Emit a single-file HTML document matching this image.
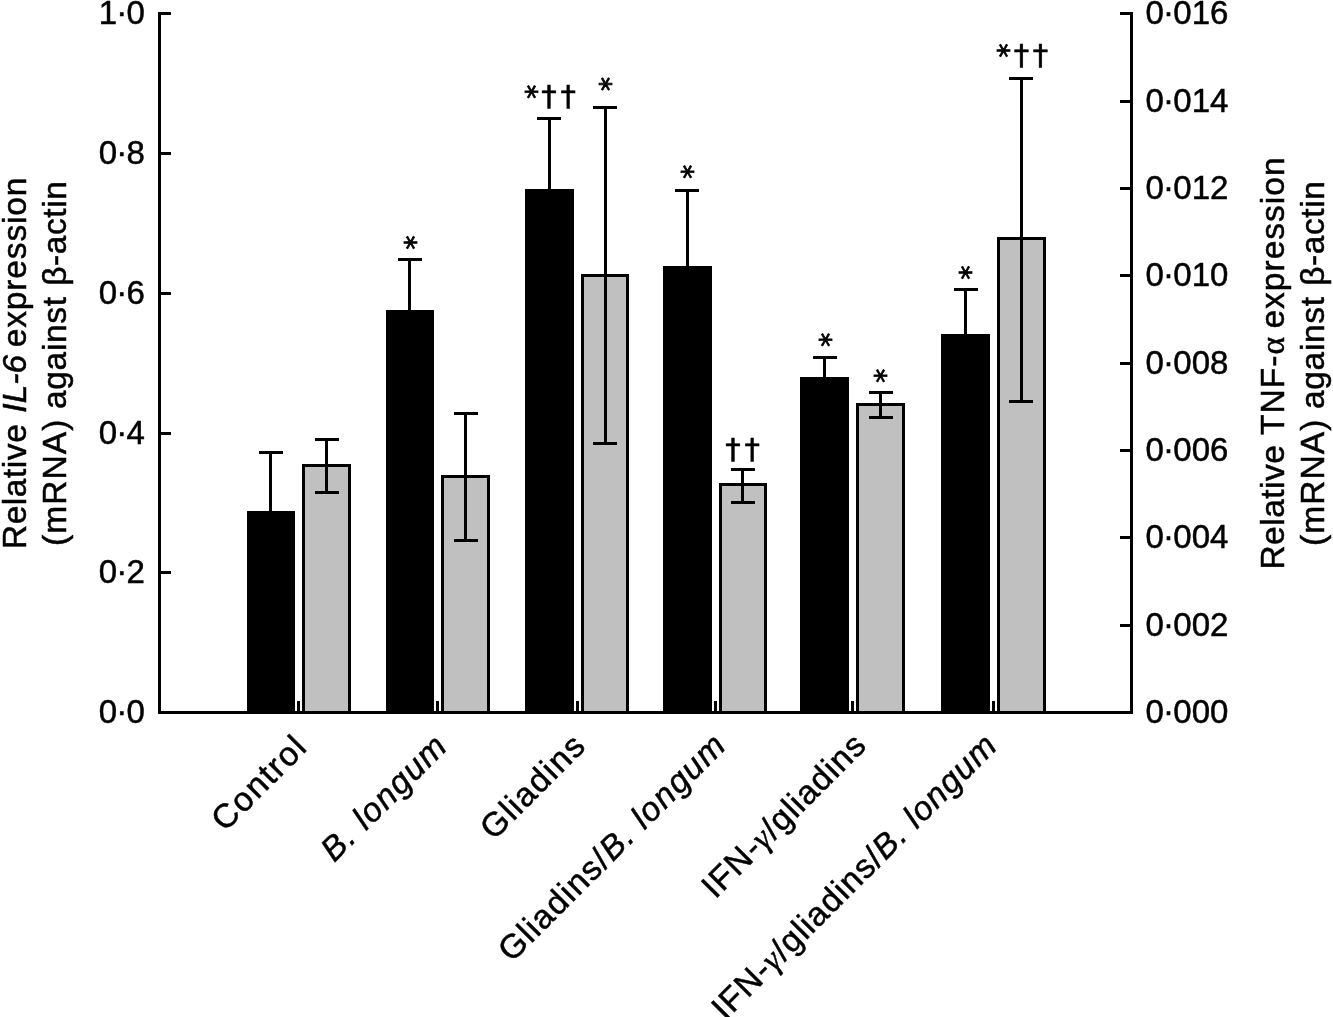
<!DOCTYPE html>
<html lang="en">
<head>
<meta charset="utf-8">
<title>Relative IL-6 and TNF-α expression</title>
<style>
html,body{margin:0;padding:0;background:#fff;}
body{width:1333px;height:1017px;overflow:hidden;}
svg{display:block;}
text{font-family:"Liberation Sans", Arial, Helvetica, sans-serif;fill:#000;stroke:#000;stroke-width:0.5px;}
.tk{font-size:33px;}
.yl{font-size:33.5px;word-spacing:2.5px;}
.xl{font-size:33.5px;text-anchor:end;letter-spacing:1.1px;}
.as{font-family:"DejaVu Sans",sans-serif;font-size:28px;stroke-width:0.8px;}
.dg{font-family:"DejaVu Sans",sans-serif;font-size:28.4px;stroke-width:0.5px;}
.it{font-style:italic;}
.gr{font-family:"Liberation Serif",serif;}
</style>
</head>
<body>
<svg width="1333" height="1017" viewBox="0 0 1333 1017">
<rect x="0" y="0" width="1333" height="1017" fill="#fff"/>

<g shape-rendering="crispEdges">
<rect x="247" y="511" width="48" height="201" fill="#000"/>
<rect x="303.5" y="465.5" width="46" height="246.5" fill="#c0c0c0" stroke="#000" stroke-width="3"/>
<rect x="297" y="701" width="3" height="11" fill="#000"/>
<rect x="386" y="310" width="48" height="402" fill="#000"/>
<rect x="442.5" y="476.5" width="46" height="235.5" fill="#c0c0c0" stroke="#000" stroke-width="3"/>
<rect x="436" y="701" width="3" height="11" fill="#000"/>
<rect x="525" y="189" width="49" height="523" fill="#000"/>
<rect x="582.5" y="275.5" width="45" height="436.5" fill="#c0c0c0" stroke="#000" stroke-width="3"/>
<rect x="576" y="701" width="3" height="11" fill="#000"/>
<rect x="663" y="266" width="49" height="446" fill="#000"/>
<rect x="720.5" y="484.5" width="45" height="227.5" fill="#c0c0c0" stroke="#000" stroke-width="3"/>
<rect x="714" y="701" width="3" height="11" fill="#000"/>
<rect x="800" y="377" width="49" height="335" fill="#000"/>
<rect x="857.5" y="404.5" width="46" height="307.5" fill="#c0c0c0" stroke="#000" stroke-width="3"/>
<rect x="851" y="701" width="3" height="11" fill="#000"/>
<rect x="941" y="334" width="49" height="378" fill="#000"/>
<rect x="998.5" y="238.5" width="46" height="473.5" fill="#c0c0c0" stroke="#000" stroke-width="3"/>
<rect x="992" y="701" width="3" height="11" fill="#000"/>
<rect x="269" y="451" width="3" height="60" fill="#000"/>
<rect x="259" y="451" width="24" height="3" fill="#000"/>
<rect x="325" y="438" width="3" height="56" fill="#000"/>
<rect x="315" y="438" width="24" height="3" fill="#000"/>
<rect x="315" y="491" width="24" height="3" fill="#000"/>
<rect x="408" y="258" width="3" height="52" fill="#000"/>
<rect x="398" y="258" width="24" height="3" fill="#000"/>
<rect x="464" y="412" width="3" height="130" fill="#000"/>
<rect x="454" y="412" width="24" height="3" fill="#000"/>
<rect x="454" y="539" width="24" height="3" fill="#000"/>
<rect x="548" y="117" width="3" height="72" fill="#000"/>
<rect x="537" y="117" width="24" height="3" fill="#000"/>
<rect x="604" y="106" width="3" height="339" fill="#000"/>
<rect x="593" y="106" width="24" height="3" fill="#000"/>
<rect x="593" y="442" width="24" height="3" fill="#000"/>
<rect x="686" y="189" width="3" height="77" fill="#000"/>
<rect x="675" y="189" width="24" height="3" fill="#000"/>
<rect x="741" y="468" width="3" height="36" fill="#000"/>
<rect x="731" y="468" width="24" height="3" fill="#000"/>
<rect x="731" y="501" width="24" height="3" fill="#000"/>
<rect x="823" y="356" width="3" height="21" fill="#000"/>
<rect x="813" y="356" width="24" height="3" fill="#000"/>
<rect x="879" y="391" width="3" height="28" fill="#000"/>
<rect x="869" y="391" width="24" height="3" fill="#000"/>
<rect x="869" y="416" width="24" height="3" fill="#000"/>
<rect x="964" y="288" width="3" height="46" fill="#000"/>
<rect x="954" y="288" width="24" height="3" fill="#000"/>
<rect x="1020" y="77" width="3" height="326" fill="#000"/>
<rect x="1009" y="77" width="24" height="3" fill="#000"/>
<rect x="1009" y="400" width="24" height="3" fill="#000"/>
<rect x="158" y="12" width="3" height="702" fill="#000"/>
<rect x="158" y="711" width="975" height="3" fill="#000"/>
<rect x="1130" y="12" width="3" height="702" fill="#000"/>
<rect x="158" y="711" width="13" height="3" fill="#000"/>
<rect x="158" y="571" width="13" height="3" fill="#000"/>
<rect x="158" y="432" width="13" height="3" fill="#000"/>
<rect x="158" y="292" width="13" height="3" fill="#000"/>
<rect x="158" y="152" width="13" height="3" fill="#000"/>
<rect x="158" y="12" width="13" height="3" fill="#000"/>
<rect x="1120" y="711" width="13" height="3" fill="#000"/>
<rect x="1120" y="624" width="13" height="3" fill="#000"/>
<rect x="1120" y="536" width="13" height="3" fill="#000"/>
<rect x="1120" y="449" width="13" height="3" fill="#000"/>
<rect x="1120" y="362" width="13" height="3" fill="#000"/>
<rect x="1120" y="274" width="13" height="3" fill="#000"/>
<rect x="1120" y="187" width="13" height="3" fill="#000"/>
<rect x="1120" y="100" width="13" height="3" fill="#000"/>
<rect x="1120" y="12" width="13" height="3" fill="#000"/>
</g>
<text class="tk" x="98.70 116.30 126.55" y="723.0 722.0 723.0">0·0</text>
<text class="tk" x="98.70 116.30 126.55" y="583.2 582.2 583.2">0·2</text>
<text class="tk" x="98.70 116.30 126.55" y="443.5 442.5 443.5">0·4</text>
<text class="tk" x="98.70 116.30 126.55" y="303.7 302.7 303.7">0·6</text>
<text class="tk" x="98.70 116.30 126.55" y="164.0 163.0 164.0">0·8</text>
<text class="tk" x="98.70 116.30 126.55" y="24.2 23.2 24.2">1·0</text>
<text class="tk" x="1145.50 1163.10 1173.35 1191.70 1210.05" y="723.0 722.0 723.0 723.0 723.0">0·000</text>
<text class="tk" x="1145.50 1163.10 1173.35 1191.70 1210.05" y="635.7 634.7 635.7 635.7 635.7">0·002</text>
<text class="tk" x="1145.50 1163.10 1173.35 1191.70 1210.05" y="548.3 547.3 548.3 548.3 548.3">0·004</text>
<text class="tk" x="1145.50 1163.10 1173.35 1191.70 1210.05" y="461.0 460.0 461.0 461.0 461.0">0·006</text>
<text class="tk" x="1145.50 1163.10 1173.35 1191.70 1210.05" y="373.6 372.6 373.6 373.6 373.6">0·008</text>
<text class="tk" x="1145.50 1163.10 1173.35 1191.70 1210.05" y="286.3 285.3 286.3 286.3 286.3">0·010</text>
<text class="tk" x="1145.50 1163.10 1173.35 1191.70 1210.05" y="198.9 197.9 198.9 198.9 198.9">0·012</text>
<text class="tk" x="1145.50 1163.10 1173.35 1191.70 1210.05" y="111.6 110.6 111.6 111.6 111.6">0·014</text>
<text class="tk" x="1145.50 1163.10 1173.35 1191.70 1210.05" y="24.2 23.2 24.2 24.2 24.2">0·016</text>
<text id="yl0" class="yl" transform="translate(26,549.7) rotate(-90)"><tspan id="yl0w0" x="0.60" style="letter-spacing:0.55px">Relative</tspan> <tspan id="yl0w1" x="137.00" style="letter-spacing:0.04px"><tspan class="it">IL-6</tspan></tspan> <tspan id="yl0w2" x="202.40" style="letter-spacing:0.86px">expression</tspan></text>
<text id="yl1" class="yl" transform="translate(66,545.8) rotate(-90)"><tspan id="yl1w0" x="-0.20" style="letter-spacing:1.09px">(mRNA)</tspan> <tspan id="yl1w1" x="136.80" style="letter-spacing:0.68px">against</tspan> <tspan id="yl1w2" x="260.00" style="letter-spacing:0.59px">β-actin</tspan></text>
<text id="yl2" class="yl" transform="translate(1284,569.4) rotate(-90)"><tspan id="yl2w0" x="-0.20" style="letter-spacing:0.50px">Relative</tspan> <tspan id="yl2w1" x="134.40" style="letter-spacing:1.04px">TNF-<tspan class="gr">α</tspan></tspan> <tspan id="yl2w2" x="240.80" style="letter-spacing:1.02px">expression</tspan></text>
<text id="yl3" class="yl" transform="translate(1324,545.8) rotate(-90)"><tspan id="yl3w0" x="-0.20" style="letter-spacing:1.09px">(mRNA)</tspan> <tspan id="yl3w1" x="136.80" style="letter-spacing:0.68px">against</tspan> <tspan id="yl3w2" x="260.00" style="letter-spacing:0.59px">β-actin</tspan></text>
<text id="xl0" class="xl" style="letter-spacing:1.56px" transform="translate(309.2,748.5) rotate(-45)">Control</text>
<text id="xl1" class="xl" style="letter-spacing:1.35px" transform="translate(449.5,747.8) rotate(-45)"><tspan class="it">B. longum</tspan></text>
<text id="xl2" class="xl" style="letter-spacing:1.5px" transform="translate(587.8,747.2) rotate(-45)">Gliadins</text>
<text id="xl3" class="xl" style="letter-spacing:1.39px" transform="translate(728.2,746.8) rotate(-45)">Gliadins/<tspan class="it">B. longum</tspan></text>
<text id="xl4" class="xl" style="letter-spacing:1.1px" transform="translate(868.4,746.6) rotate(-45)">IFN-<tspan class="gr it">γ</tspan>/gliadins</text>
<text id="xl5" class="xl" style="letter-spacing:1.09px" transform="translate(999.2,747.3) rotate(-45)">IFN-<tspan class="gr it">γ</tspan>/gliadins/<tspan class="it">B. longum</tspan></text>
<text class="as" transform="translate(410.3,242.6) rotate(90) translate(-7.00,14.42)">*</text>
<text class="as" transform="translate(605.4,84.0) rotate(90) translate(-7.00,14.42)">*</text>
<text class="as" transform="translate(687.5,171.7) rotate(90) translate(-7.00,14.42)">*</text>
<text class="as" transform="translate(825.5,339.8) rotate(90) translate(-7.00,14.42)">*</text>
<text class="as" transform="translate(880.6,375.7) rotate(90) translate(-7.00,14.42)">*</text>
<text class="as" transform="translate(965.7,272.4) rotate(90) translate(-7.00,14.42)">*</text>
<text class="as" transform="translate(531.5,91.7) rotate(90) translate(-7.00,14.42)">*</text>
<text class="as" transform="translate(1003.5,50.5) rotate(90) translate(-7.00,14.42)">*</text>
<text class="dg" transform="translate(549.0,106.0) scale(1.085,1) translate(-7.10,0)">†</text>
<text class="dg" transform="translate(568.2,106.0) scale(1.085,1) translate(-7.10,0)">†</text>
<text class="dg" transform="translate(733.0,458.6) scale(1.085,1) translate(-7.10,0)">†</text>
<text class="dg" transform="translate(752.2,458.6) scale(1.085,1) translate(-7.10,0)">†</text>
<text class="dg" transform="translate(1021.5,64.6) scale(1.085,1) translate(-7.10,0)">†</text>
<text class="dg" transform="translate(1040.5,64.6) scale(1.085,1) translate(-7.10,0)">†</text>
</svg>
</body>
</html>
